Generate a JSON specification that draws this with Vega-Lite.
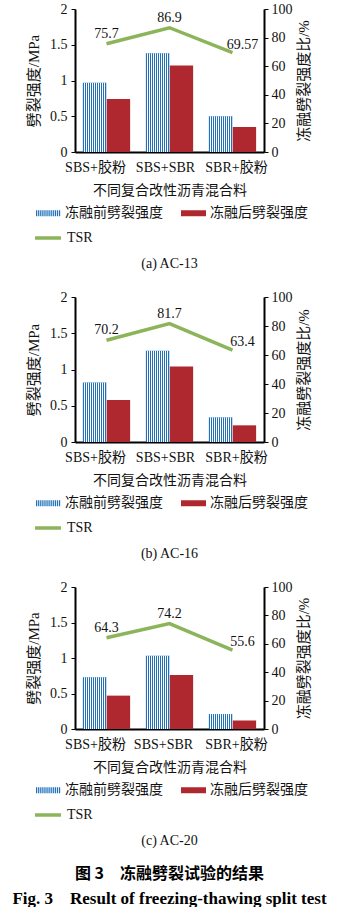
{
"$schema": "https://vega.github.io/schema/vega-lite/v6.json",
"padding": {"left": 12, "top": 2, "right": 0, "bottom": 0},
"config": {"view": {"stroke": null}, "font": "Liberation Serif, Noto Sans CJK SC", "axis": {"labelColor": "#111", "titleColor": "#111"}, "legend": {"labelColor": "#111", "padding": 0}},
"datasets": {
"bars": [
{"panel": "a", "cat": "SBS+胶粉", "series": "冻融前劈裂强度", "value": 0.97},
{"panel": "a", "cat": "SBS+胶粉", "series": "冻融后劈裂强度", "value": 0.74},
{"panel": "a", "cat": "SBS+SBR", "series": "冻融前劈裂强度", "value": 1.38},
{"panel": "a", "cat": "SBS+SBR", "series": "冻融后劈裂强度", "value": 1.21},
{"panel": "a", "cat": "SBR+胶粉", "series": "冻融前劈裂强度", "value": 0.5},
{"panel": "a", "cat": "SBR+胶粉", "series": "冻融后劈裂强度", "value": 0.35},
{"panel": "b", "cat": "SBS+胶粉", "series": "冻融前劈裂强度", "value": 0.82},
{"panel": "b", "cat": "SBS+胶粉", "series": "冻融后劈裂强度", "value": 0.58},
{"panel": "b", "cat": "SBS+SBR", "series": "冻融前劈裂强度", "value": 1.26},
{"panel": "b", "cat": "SBS+SBR", "series": "冻融后劈裂强度", "value": 1.04},
{"panel": "b", "cat": "SBR+胶粉", "series": "冻融前劈裂强度", "value": 0.34},
{"panel": "b", "cat": "SBR+胶粉", "series": "冻融后劈裂强度", "value": 0.23},
{"panel": "c", "cat": "SBS+胶粉", "series": "冻融前劈裂强度", "value": 0.73},
{"panel": "c", "cat": "SBS+胶粉", "series": "冻融后劈裂强度", "value": 0.47},
{"panel": "c", "cat": "SBS+SBR", "series": "冻融前劈裂强度", "value": 1.03},
{"panel": "c", "cat": "SBS+SBR", "series": "冻融后劈裂强度", "value": 0.76},
{"panel": "c", "cat": "SBR+胶粉", "series": "冻融前劈裂强度", "value": 0.21},
{"panel": "c", "cat": "SBR+胶粉", "series": "冻融后劈裂强度", "value": 0.12}
],
"tsr": [
{"panel": "a", "cat": "SBS+胶粉", "tsr": 75.7},
{"panel": "a", "cat": "SBS+SBR", "tsr": 86.9},
{"panel": "a", "cat": "SBR+胶粉", "tsr": 69.57},
{"panel": "b", "cat": "SBS+胶粉", "tsr": 70.2},
{"panel": "b", "cat": "SBS+SBR", "tsr": 81.7},
{"panel": "b", "cat": "SBR+胶粉", "tsr": 63.4},
{"panel": "c", "cat": "SBS+胶粉", "tsr": 64.3},
{"panel": "c", "cat": "SBS+SBR", "tsr": 74.2},
{"panel": "c", "cat": "SBR+胶粉", "tsr": 55.6}
]
},
"title": {"text": "图 3\u2003冻融劈裂试验的结果", "subtitle": "Fig. 3\u2003Result of freezing-thawing split test", "orient": "bottom", "anchor": "middle", "frame": "group", "font": "Noto Sans CJK SC", "fontSize": 16, "fontWeight": "bold", "color": "#000", "subtitleFont": "Liberation Serif", "subtitleFontSize": 17, "subtitleFontWeight": "bold", "subtitleColor": "#000", "subtitlePadding": 9, "offset": 18},
"vconcat": [
{
"width": 189, "height": 143,
"title": {"text": "(a) AC-13", "orient": "bottom", "offset": 12, "frame": "group", "anchor": "middle", "font": "Liberation Serif", "fontSize": 14, "fontWeight": "normal", "color": "#111"},
"layer": [
{"layer": [
{"data": {"name": "bars"}, "transform": [{"filter": "datum.panel == 'a'"}],
"mark": {"type": "bar"},
"encoding": {
"x": {"field": "cat", "type": "nominal", "scale": {"domain": ["SBS+胶粉", "SBS+SBR", "SBR+胶粉"], "paddingInner": 0.25, "paddingOuter": 0.125}, "axis": {"title": "不同复合改性沥青混合料", "labelAngle": 0, "labelFontSize": 14, "titleFontSize": 14, "titleFontWeight": "normal", "ticks": false, "domainColor": "#000", "domainWidth": 2, "labelPadding": 8, "titlePadding": 9, "labelOffset": {"condition": [{"test": "datum.value == 'SBS+胶粉'", "value": -11}, {"test": "datum.value == 'SBR+胶粉'", "value": 4}], "value": -4}}},
"xOffset": {"field": "series", "type": "nominal", "scale": {"domain": ["冻融前劈裂强度", "冻融后劈裂强度"], "paddingInner": 0, "paddingOuter": 0}},
"y": {"field": "value", "type": "quantitative", "scale": {"domain": [0, 2], "nice": false}, "axis": {"title": "劈裂强度/MPa", "values": [0, 0.5, 1, 1.5, 2], "format": "~g", "grid": false, "labelFontSize": 14, "titleFontSize": 15, "titleFontWeight": "normal", "tickSize": 4, "tickColor": "#000", "domainColor": "#000", "domainWidth": 2, "labelPadding": 4, "titlePadding": 8}},
"color": {"field": "series", "type": "nominal", "scale": {"domain": ["冻融前劈裂强度", "冻融后劈裂强度"], "range": ["#1F70B8", "#B0282F"]}, "legend": {"title": null, "orient": "none", "legendX": -39, "legendY": 191.5, "direction": "horizontal", "columns": 2, "columnPadding": 18, "symbolSize": 625, "symbolStrokeWidth": 0, "labelFontSize": 14, "labelOffset": 4, "encode": {"symbols": {"update": {"shape": {"signal": "datum.value === '冻融前劈裂强度' ? 'M-1,-0.24h0.1v0.48h-0.1ZM-0.8333,-0.24h0.1v0.48h-0.1ZM-0.6667,-0.24h0.1v0.48h-0.1ZM-0.5,-0.24h0.1v0.48h-0.1ZM-0.3333,-0.24h0.1v0.48h-0.1ZM-0.1667,-0.24h0.1v0.48h-0.1ZM0,-0.24h0.1v0.48h-0.1ZM0.1667,-0.24h0.1v0.48h-0.1ZM0.3333,-0.24h0.1v0.48h-0.1ZM0.5,-0.24h0.1v0.48h-0.1ZM0.6667,-0.24h0.1v0.48h-0.1ZM0.8333,-0.24h0.1v0.48h-0.1Z' : 'M-1,-0.24H1V0.24H-1Z'"}}}}}}
}},
{"data": {"name": "bars"}, "transform": [{"filter": "datum.panel == 'a' && datum.series == '冻融前劈裂强度'"}],
"mark": {"type": "bar", "fill": {"gradient": "linear", "x1": 0, "x2": 1, "y1": 0, "y2": 0, "stops": [
{"offset": 0, "color": "rgba(255,255,255,0)"}, {"offset": 0.0517, "color": "rgba(255,255,255,0)"}, {"offset": 0.0517, "color": "#ffffff"}, {"offset": 0.0833, "color": "#ffffff"},
{"offset": 0.0833, "color": "rgba(255,255,255,0)"}, {"offset": 0.135, "color": "rgba(255,255,255,0)"}, {"offset": 0.135, "color": "#ffffff"}, {"offset": 0.1667, "color": "#ffffff"},
{"offset": 0.1667, "color": "rgba(255,255,255,0)"}, {"offset": 0.2183, "color": "rgba(255,255,255,0)"}, {"offset": 0.2183, "color": "#ffffff"}, {"offset": 0.25, "color": "#ffffff"},
{"offset": 0.25, "color": "rgba(255,255,255,0)"}, {"offset": 0.3017, "color": "rgba(255,255,255,0)"}, {"offset": 0.3017, "color": "#ffffff"}, {"offset": 0.3333, "color": "#ffffff"},
{"offset": 0.3333, "color": "rgba(255,255,255,0)"}, {"offset": 0.385, "color": "rgba(255,255,255,0)"}, {"offset": 0.385, "color": "#ffffff"}, {"offset": 0.4167, "color": "#ffffff"},
{"offset": 0.4167, "color": "rgba(255,255,255,0)"}, {"offset": 0.4683, "color": "rgba(255,255,255,0)"}, {"offset": 0.4683, "color": "#ffffff"}, {"offset": 0.5, "color": "#ffffff"},
{"offset": 0.5, "color": "rgba(255,255,255,0)"}, {"offset": 0.5517, "color": "rgba(255,255,255,0)"}, {"offset": 0.5517, "color": "#ffffff"}, {"offset": 0.5833, "color": "#ffffff"},
{"offset": 0.5833, "color": "rgba(255,255,255,0)"}, {"offset": 0.635, "color": "rgba(255,255,255,0)"}, {"offset": 0.635, "color": "#ffffff"}, {"offset": 0.6667, "color": "#ffffff"},
{"offset": 0.6667, "color": "rgba(255,255,255,0)"}, {"offset": 0.7183, "color": "rgba(255,255,255,0)"}, {"offset": 0.7183, "color": "#ffffff"}, {"offset": 0.75, "color": "#ffffff"},
{"offset": 0.75, "color": "rgba(255,255,255,0)"}, {"offset": 0.8017, "color": "rgba(255,255,255,0)"}, {"offset": 0.8017, "color": "#ffffff"}, {"offset": 0.8333, "color": "#ffffff"},
{"offset": 0.8333, "color": "rgba(255,255,255,0)"}, {"offset": 0.885, "color": "rgba(255,255,255,0)"}, {"offset": 0.885, "color": "#ffffff"}, {"offset": 0.9167, "color": "#ffffff"},
{"offset": 0.9167, "color": "rgba(255,255,255,0)"}, {"offset": 0.9683, "color": "rgba(255,255,255,0)"}, {"offset": 0.9683, "color": "#ffffff"}, {"offset": 1, "color": "#ffffff"}
]}},
"encoding": {
"x": {"field": "cat", "type": "nominal", "scale": {"domain": ["SBS+胶粉", "SBS+SBR", "SBR+胶粉"], "paddingInner": 0.25, "paddingOuter": 0.125}, "axis": {"title": "不同复合改性沥青混合料", "labelAngle": 0, "labelFontSize": 14, "titleFontSize": 14, "titleFontWeight": "normal", "ticks": false, "domainColor": "#000", "domainWidth": 2, "labelPadding": 8, "titlePadding": 9, "labelOffset": {"condition": [{"test": "datum.value == 'SBS+胶粉'", "value": -11}, {"test": "datum.value == 'SBR+胶粉'", "value": 4}], "value": -4}}},
"xOffset": {"field": "series", "type": "nominal", "scale": {"domain": ["冻融前劈裂强度", "冻融后劈裂强度"], "paddingInner": 0, "paddingOuter": 0}},
"y": {"field": "value", "type": "quantitative", "scale": {"domain": [0, 2], "nice": false}, "axis": {"title": "劈裂强度/MPa", "values": [0, 0.5, 1, 1.5, 2], "format": "~g", "grid": false, "labelFontSize": 14, "titleFontSize": 15, "titleFontWeight": "normal", "tickSize": 4, "tickColor": "#000", "domainColor": "#000", "domainWidth": 2, "labelPadding": 4, "titlePadding": 8}}
}}
]},
{"layer": [
{"data": {"name": "tsr"}, "transform": [{"filter": "datum.panel == 'a'"}],
"mark": {"type": "line", "strokeWidth": 3.5},
"encoding": {
"x": {"field": "cat", "type": "nominal", "scale": {"domain": ["SBS+胶粉", "SBS+SBR", "SBR+胶粉"], "paddingInner": 0.25, "paddingOuter": 0.125}, "axis": {"title": "不同复合改性沥青混合料", "labelAngle": 0, "labelFontSize": 14, "titleFontSize": 14, "titleFontWeight": "normal", "ticks": false, "domainColor": "#000", "domainWidth": 2, "labelPadding": 8, "titlePadding": 9, "labelOffset": {"condition": [{"test": "datum.value == 'SBS+胶粉'", "value": -11}, {"test": "datum.value == 'SBR+胶粉'", "value": 4}], "value": -4}}},
"y": {"field": "tsr", "type": "quantitative", "scale": {"domain": [0, 100], "nice": false}, "axis": {"orient": "right", "title": "冻融劈裂强度比/%", "values": [0, 20, 40, 60, 80, 100], "grid": false, "labelFontSize": 14, "titleFontSize": 15, "titleFontWeight": "normal", "titleAngle": 270, "titleBaseline": "top", "tickSize": 4, "tickColor": "#000", "domainColor": "#000", "domainWidth": 2, "labelPadding": 3, "titlePadding": 4}},
"stroke": {"datum": "TSR", "type": "nominal", "scale": {"range": ["#8CB45A"]}, "legend": {"title": null, "orient": "none", "legendX": -42, "legendY": 214, "symbolType": "stroke", "symbolSize": 676, "symbolStrokeWidth": 3.5, "labelFontSize": 14, "labelOffset": 4}}
}},
{"data": {"name": "tsr"}, "transform": [{"filter": "datum.panel == 'a' && datum.cat != 'SBR+胶粉'"}],
"mark": {"type": "text", "fontSize": 14, "baseline": "middle", "dy": -10, "color": "#111"},
"encoding": {
"x": {"field": "cat", "type": "nominal", "scale": {"domain": ["SBS+胶粉", "SBS+SBR", "SBR+胶粉"], "paddingInner": 0.25, "paddingOuter": 0.125}, "axis": {"title": "不同复合改性沥青混合料", "labelAngle": 0, "labelFontSize": 14, "titleFontSize": 14, "titleFontWeight": "normal", "ticks": false, "domainColor": "#000", "domainWidth": 2, "labelPadding": 8, "titlePadding": 9, "labelOffset": {"condition": [{"test": "datum.value == 'SBS+胶粉'", "value": -11}, {"test": "datum.value == 'SBR+胶粉'", "value": 4}], "value": -4}}},
"y": {"field": "tsr", "type": "quantitative", "scale": {"domain": [0, 100], "nice": false}, "axis": {"orient": "right", "title": "冻融劈裂强度比/%", "values": [0, 20, 40, 60, 80, 100], "grid": false, "labelFontSize": 14, "titleFontSize": 15, "titleFontWeight": "normal", "titleAngle": 270, "titleBaseline": "top", "tickSize": 4, "tickColor": "#000", "domainColor": "#000", "domainWidth": 2, "labelPadding": 3, "titlePadding": 4}},
"text": {"field": "tsr", "type": "nominal"}
}},
{"data": {"name": "tsr"}, "transform": [{"filter": "datum.panel == 'a' && datum.cat == 'SBR+胶粉'"}],
"mark": {"type": "text", "fontSize": 14, "baseline": "middle", "dy": -8, "dx": 10, "color": "#111"},
"encoding": {
"x": {"field": "cat", "type": "nominal", "scale": {"domain": ["SBS+胶粉", "SBS+SBR", "SBR+胶粉"], "paddingInner": 0.25, "paddingOuter": 0.125}, "axis": {"title": "不同复合改性沥青混合料", "labelAngle": 0, "labelFontSize": 14, "titleFontSize": 14, "titleFontWeight": "normal", "ticks": false, "domainColor": "#000", "domainWidth": 2, "labelPadding": 8, "titlePadding": 9, "labelOffset": {"condition": [{"test": "datum.value == 'SBS+胶粉'", "value": -11}, {"test": "datum.value == 'SBR+胶粉'", "value": 4}], "value": -4}}},
"y": {"field": "tsr", "type": "quantitative", "scale": {"domain": [0, 100], "nice": false}, "axis": {"orient": "right", "title": "冻融劈裂强度比/%", "values": [0, 20, 40, 60, 80, 100], "grid": false, "labelFontSize": 14, "titleFontSize": 15, "titleFontWeight": "normal", "titleAngle": 270, "titleBaseline": "top", "tickSize": 4, "tickColor": "#000", "domainColor": "#000", "domainWidth": 2, "labelPadding": 3, "titlePadding": 4}},
"text": {"field": "tsr", "type": "nominal"}
}}
]}
],
"resolve": {"scale": {"y": "independent"}}
},
{
"width": 189, "height": 145,
"title": {"text": "(b) AC-16", "orient": "bottom", "offset": 12, "frame": "group", "anchor": "middle", "font": "Liberation Serif", "fontSize": 14, "fontWeight": "normal", "color": "#111"},
"layer": [
{"layer": [
{"data": {"name": "bars"}, "transform": [{"filter": "datum.panel == 'b'"}],
"mark": {"type": "bar"},
"encoding": {
"x": {"field": "cat", "type": "nominal", "scale": {"domain": ["SBS+胶粉", "SBS+SBR", "SBR+胶粉"], "paddingInner": 0.25, "paddingOuter": 0.125}, "axis": {"title": "不同复合改性沥青混合料", "labelAngle": 0, "labelFontSize": 14, "titleFontSize": 14, "titleFontWeight": "normal", "ticks": false, "domainColor": "#000", "domainWidth": 2, "labelPadding": 8, "titlePadding": 9, "labelOffset": {"condition": [{"test": "datum.value == 'SBS+胶粉'", "value": -11}, {"test": "datum.value == 'SBR+胶粉'", "value": 4}], "value": -4}}},
"xOffset": {"field": "series", "type": "nominal", "scale": {"domain": ["冻融前劈裂强度", "冻融后劈裂强度"], "paddingInner": 0, "paddingOuter": 0}},
"y": {"field": "value", "type": "quantitative", "scale": {"domain": [0, 2], "nice": false}, "axis": {"title": "劈裂强度/MPa", "values": [0, 0.5, 1, 1.5, 2], "format": "~g", "grid": false, "labelFontSize": 14, "titleFontSize": 15, "titleFontWeight": "normal", "tickSize": 4, "tickColor": "#000", "domainColor": "#000", "domainWidth": 2, "labelPadding": 4, "titlePadding": 8}},
"color": {"field": "series", "type": "nominal", "scale": {"domain": ["冻融前劈裂强度", "冻融后劈裂强度"], "range": ["#1F70B8", "#B0282F"]}, "legend": {"title": null, "orient": "none", "legendX": -39, "legendY": 193.5, "direction": "horizontal", "columns": 2, "columnPadding": 18, "symbolSize": 625, "symbolStrokeWidth": 0, "labelFontSize": 14, "labelOffset": 4, "encode": {"symbols": {"update": {"shape": {"signal": "datum.value === '冻融前劈裂强度' ? 'M-1,-0.24h0.1v0.48h-0.1ZM-0.8333,-0.24h0.1v0.48h-0.1ZM-0.6667,-0.24h0.1v0.48h-0.1ZM-0.5,-0.24h0.1v0.48h-0.1ZM-0.3333,-0.24h0.1v0.48h-0.1ZM-0.1667,-0.24h0.1v0.48h-0.1ZM0,-0.24h0.1v0.48h-0.1ZM0.1667,-0.24h0.1v0.48h-0.1ZM0.3333,-0.24h0.1v0.48h-0.1ZM0.5,-0.24h0.1v0.48h-0.1ZM0.6667,-0.24h0.1v0.48h-0.1ZM0.8333,-0.24h0.1v0.48h-0.1Z' : 'M-1,-0.24H1V0.24H-1Z'"}}}}}}
}},
{"data": {"name": "bars"}, "transform": [{"filter": "datum.panel == 'b' && datum.series == '冻融前劈裂强度'"}],
"mark": {"type": "bar", "fill": {"gradient": "linear", "x1": 0, "x2": 1, "y1": 0, "y2": 0, "stops": [
{"offset": 0, "color": "rgba(255,255,255,0)"}, {"offset": 0.0517, "color": "rgba(255,255,255,0)"}, {"offset": 0.0517, "color": "#ffffff"}, {"offset": 0.0833, "color": "#ffffff"},
{"offset": 0.0833, "color": "rgba(255,255,255,0)"}, {"offset": 0.135, "color": "rgba(255,255,255,0)"}, {"offset": 0.135, "color": "#ffffff"}, {"offset": 0.1667, "color": "#ffffff"},
{"offset": 0.1667, "color": "rgba(255,255,255,0)"}, {"offset": 0.2183, "color": "rgba(255,255,255,0)"}, {"offset": 0.2183, "color": "#ffffff"}, {"offset": 0.25, "color": "#ffffff"},
{"offset": 0.25, "color": "rgba(255,255,255,0)"}, {"offset": 0.3017, "color": "rgba(255,255,255,0)"}, {"offset": 0.3017, "color": "#ffffff"}, {"offset": 0.3333, "color": "#ffffff"},
{"offset": 0.3333, "color": "rgba(255,255,255,0)"}, {"offset": 0.385, "color": "rgba(255,255,255,0)"}, {"offset": 0.385, "color": "#ffffff"}, {"offset": 0.4167, "color": "#ffffff"},
{"offset": 0.4167, "color": "rgba(255,255,255,0)"}, {"offset": 0.4683, "color": "rgba(255,255,255,0)"}, {"offset": 0.4683, "color": "#ffffff"}, {"offset": 0.5, "color": "#ffffff"},
{"offset": 0.5, "color": "rgba(255,255,255,0)"}, {"offset": 0.5517, "color": "rgba(255,255,255,0)"}, {"offset": 0.5517, "color": "#ffffff"}, {"offset": 0.5833, "color": "#ffffff"},
{"offset": 0.5833, "color": "rgba(255,255,255,0)"}, {"offset": 0.635, "color": "rgba(255,255,255,0)"}, {"offset": 0.635, "color": "#ffffff"}, {"offset": 0.6667, "color": "#ffffff"},
{"offset": 0.6667, "color": "rgba(255,255,255,0)"}, {"offset": 0.7183, "color": "rgba(255,255,255,0)"}, {"offset": 0.7183, "color": "#ffffff"}, {"offset": 0.75, "color": "#ffffff"},
{"offset": 0.75, "color": "rgba(255,255,255,0)"}, {"offset": 0.8017, "color": "rgba(255,255,255,0)"}, {"offset": 0.8017, "color": "#ffffff"}, {"offset": 0.8333, "color": "#ffffff"},
{"offset": 0.8333, "color": "rgba(255,255,255,0)"}, {"offset": 0.885, "color": "rgba(255,255,255,0)"}, {"offset": 0.885, "color": "#ffffff"}, {"offset": 0.9167, "color": "#ffffff"},
{"offset": 0.9167, "color": "rgba(255,255,255,0)"}, {"offset": 0.9683, "color": "rgba(255,255,255,0)"}, {"offset": 0.9683, "color": "#ffffff"}, {"offset": 1, "color": "#ffffff"}
]}},
"encoding": {
"x": {"field": "cat", "type": "nominal", "scale": {"domain": ["SBS+胶粉", "SBS+SBR", "SBR+胶粉"], "paddingInner": 0.25, "paddingOuter": 0.125}, "axis": {"title": "不同复合改性沥青混合料", "labelAngle": 0, "labelFontSize": 14, "titleFontSize": 14, "titleFontWeight": "normal", "ticks": false, "domainColor": "#000", "domainWidth": 2, "labelPadding": 8, "titlePadding": 9, "labelOffset": {"condition": [{"test": "datum.value == 'SBS+胶粉'", "value": -11}, {"test": "datum.value == 'SBR+胶粉'", "value": 4}], "value": -4}}},
"xOffset": {"field": "series", "type": "nominal", "scale": {"domain": ["冻融前劈裂强度", "冻融后劈裂强度"], "paddingInner": 0, "paddingOuter": 0}},
"y": {"field": "value", "type": "quantitative", "scale": {"domain": [0, 2], "nice": false}, "axis": {"title": "劈裂强度/MPa", "values": [0, 0.5, 1, 1.5, 2], "format": "~g", "grid": false, "labelFontSize": 14, "titleFontSize": 15, "titleFontWeight": "normal", "tickSize": 4, "tickColor": "#000", "domainColor": "#000", "domainWidth": 2, "labelPadding": 4, "titlePadding": 8}}
}}
]},
{"layer": [
{"data": {"name": "tsr"}, "transform": [{"filter": "datum.panel == 'b'"}],
"mark": {"type": "line", "strokeWidth": 3.5},
"encoding": {
"x": {"field": "cat", "type": "nominal", "scale": {"domain": ["SBS+胶粉", "SBS+SBR", "SBR+胶粉"], "paddingInner": 0.25, "paddingOuter": 0.125}, "axis": {"title": "不同复合改性沥青混合料", "labelAngle": 0, "labelFontSize": 14, "titleFontSize": 14, "titleFontWeight": "normal", "ticks": false, "domainColor": "#000", "domainWidth": 2, "labelPadding": 8, "titlePadding": 9, "labelOffset": {"condition": [{"test": "datum.value == 'SBS+胶粉'", "value": -11}, {"test": "datum.value == 'SBR+胶粉'", "value": 4}], "value": -4}}},
"y": {"field": "tsr", "type": "quantitative", "scale": {"domain": [0, 100], "nice": false}, "axis": {"orient": "right", "title": "冻融劈裂强度比/%", "values": [0, 20, 40, 60, 80, 100], "grid": false, "labelFontSize": 14, "titleFontSize": 15, "titleFontWeight": "normal", "titleAngle": 270, "titleBaseline": "top", "tickSize": 4, "tickColor": "#000", "domainColor": "#000", "domainWidth": 2, "labelPadding": 3, "titlePadding": 4}},
"stroke": {"datum": "TSR", "type": "nominal", "scale": {"range": ["#8CB45A"]}, "legend": {"title": null, "orient": "none", "legendX": -42, "legendY": 216, "symbolType": "stroke", "symbolSize": 676, "symbolStrokeWidth": 3.5, "labelFontSize": 14, "labelOffset": 4}}
}},
{"data": {"name": "tsr"}, "transform": [{"filter": "datum.panel == 'b' && datum.cat != 'SBR+胶粉'"}],
"mark": {"type": "text", "fontSize": 14, "baseline": "middle", "dy": -10, "color": "#111"},
"encoding": {
"x": {"field": "cat", "type": "nominal", "scale": {"domain": ["SBS+胶粉", "SBS+SBR", "SBR+胶粉"], "paddingInner": 0.25, "paddingOuter": 0.125}, "axis": {"title": "不同复合改性沥青混合料", "labelAngle": 0, "labelFontSize": 14, "titleFontSize": 14, "titleFontWeight": "normal", "ticks": false, "domainColor": "#000", "domainWidth": 2, "labelPadding": 8, "titlePadding": 9, "labelOffset": {"condition": [{"test": "datum.value == 'SBS+胶粉'", "value": -11}, {"test": "datum.value == 'SBR+胶粉'", "value": 4}], "value": -4}}},
"y": {"field": "tsr", "type": "quantitative", "scale": {"domain": [0, 100], "nice": false}, "axis": {"orient": "right", "title": "冻融劈裂强度比/%", "values": [0, 20, 40, 60, 80, 100], "grid": false, "labelFontSize": 14, "titleFontSize": 15, "titleFontWeight": "normal", "titleAngle": 270, "titleBaseline": "top", "tickSize": 4, "tickColor": "#000", "domainColor": "#000", "domainWidth": 2, "labelPadding": 3, "titlePadding": 4}},
"text": {"field": "tsr", "type": "nominal"}
}},
{"data": {"name": "tsr"}, "transform": [{"filter": "datum.panel == 'b' && datum.cat == 'SBR+胶粉'"}],
"mark": {"type": "text", "fontSize": 14, "baseline": "middle", "dy": -8, "dx": 10, "color": "#111"},
"encoding": {
"x": {"field": "cat", "type": "nominal", "scale": {"domain": ["SBS+胶粉", "SBS+SBR", "SBR+胶粉"], "paddingInner": 0.25, "paddingOuter": 0.125}, "axis": {"title": "不同复合改性沥青混合料", "labelAngle": 0, "labelFontSize": 14, "titleFontSize": 14, "titleFontWeight": "normal", "ticks": false, "domainColor": "#000", "domainWidth": 2, "labelPadding": 8, "titlePadding": 9, "labelOffset": {"condition": [{"test": "datum.value == 'SBS+胶粉'", "value": -11}, {"test": "datum.value == 'SBR+胶粉'", "value": 4}], "value": -4}}},
"y": {"field": "tsr", "type": "quantitative", "scale": {"domain": [0, 100], "nice": false}, "axis": {"orient": "right", "title": "冻融劈裂强度比/%", "values": [0, 20, 40, 60, 80, 100], "grid": false, "labelFontSize": 14, "titleFontSize": 15, "titleFontWeight": "normal", "titleAngle": 270, "titleBaseline": "top", "tickSize": 4, "tickColor": "#000", "domainColor": "#000", "domainWidth": 2, "labelPadding": 3, "titlePadding": 4}},
"text": {"field": "tsr", "type": "nominal"}
}}
]}
],
"resolve": {"scale": {"y": "independent"}}
},
{
"width": 189, "height": 142,
"title": {"text": "(c) AC-20", "orient": "bottom", "offset": 12, "frame": "group", "anchor": "middle", "font": "Liberation Serif", "fontSize": 14, "fontWeight": "normal", "color": "#111"},
"layer": [
{"layer": [
{"data": {"name": "bars"}, "transform": [{"filter": "datum.panel == 'c'"}],
"mark": {"type": "bar"},
"encoding": {
"x": {"field": "cat", "type": "nominal", "scale": {"domain": ["SBS+胶粉", "SBS+SBR", "SBR+胶粉"], "paddingInner": 0.25, "paddingOuter": 0.125}, "axis": {"title": "不同复合改性沥青混合料", "labelAngle": 0, "labelFontSize": 14, "titleFontSize": 14, "titleFontWeight": "normal", "ticks": false, "domainColor": "#000", "domainWidth": 2, "labelPadding": 8, "titlePadding": 9, "labelOffset": {"condition": [{"test": "datum.value == 'SBS+胶粉'", "value": -11}, {"test": "datum.value == 'SBR+胶粉'", "value": 4}], "value": -6}}},
"xOffset": {"field": "series", "type": "nominal", "scale": {"domain": ["冻融前劈裂强度", "冻融后劈裂强度"], "paddingInner": 0, "paddingOuter": 0}},
"y": {"field": "value", "type": "quantitative", "scale": {"domain": [0, 2], "nice": false}, "axis": {"title": "劈裂强度/MPa", "values": [0, 0.5, 1, 1.5, 2], "format": "~g", "grid": false, "labelFontSize": 14, "titleFontSize": 15, "titleFontWeight": "normal", "tickSize": 4, "tickColor": "#000", "domainColor": "#000", "domainWidth": 2, "labelPadding": 4, "titlePadding": 8}},
"color": {"field": "series", "type": "nominal", "scale": {"domain": ["冻融前劈裂强度", "冻融后劈裂强度"], "range": ["#1F70B8", "#B0282F"]}, "legend": {"title": null, "orient": "none", "legendX": -39, "legendY": 190.5, "direction": "horizontal", "columns": 2, "columnPadding": 18, "symbolSize": 625, "symbolStrokeWidth": 0, "labelFontSize": 14, "labelOffset": 4, "encode": {"symbols": {"update": {"shape": {"signal": "datum.value === '冻融前劈裂强度' ? 'M-1,-0.24h0.1v0.48h-0.1ZM-0.8333,-0.24h0.1v0.48h-0.1ZM-0.6667,-0.24h0.1v0.48h-0.1ZM-0.5,-0.24h0.1v0.48h-0.1ZM-0.3333,-0.24h0.1v0.48h-0.1ZM-0.1667,-0.24h0.1v0.48h-0.1ZM0,-0.24h0.1v0.48h-0.1ZM0.1667,-0.24h0.1v0.48h-0.1ZM0.3333,-0.24h0.1v0.48h-0.1ZM0.5,-0.24h0.1v0.48h-0.1ZM0.6667,-0.24h0.1v0.48h-0.1ZM0.8333,-0.24h0.1v0.48h-0.1Z' : 'M-1,-0.24H1V0.24H-1Z'"}}}}}}
}},
{"data": {"name": "bars"}, "transform": [{"filter": "datum.panel == 'c' && datum.series == '冻融前劈裂强度'"}],
"mark": {"type": "bar", "fill": {"gradient": "linear", "x1": 0, "x2": 1, "y1": 0, "y2": 0, "stops": [
{"offset": 0, "color": "rgba(255,255,255,0)"}, {"offset": 0.0517, "color": "rgba(255,255,255,0)"}, {"offset": 0.0517, "color": "#ffffff"}, {"offset": 0.0833, "color": "#ffffff"},
{"offset": 0.0833, "color": "rgba(255,255,255,0)"}, {"offset": 0.135, "color": "rgba(255,255,255,0)"}, {"offset": 0.135, "color": "#ffffff"}, {"offset": 0.1667, "color": "#ffffff"},
{"offset": 0.1667, "color": "rgba(255,255,255,0)"}, {"offset": 0.2183, "color": "rgba(255,255,255,0)"}, {"offset": 0.2183, "color": "#ffffff"}, {"offset": 0.25, "color": "#ffffff"},
{"offset": 0.25, "color": "rgba(255,255,255,0)"}, {"offset": 0.3017, "color": "rgba(255,255,255,0)"}, {"offset": 0.3017, "color": "#ffffff"}, {"offset": 0.3333, "color": "#ffffff"},
{"offset": 0.3333, "color": "rgba(255,255,255,0)"}, {"offset": 0.385, "color": "rgba(255,255,255,0)"}, {"offset": 0.385, "color": "#ffffff"}, {"offset": 0.4167, "color": "#ffffff"},
{"offset": 0.4167, "color": "rgba(255,255,255,0)"}, {"offset": 0.4683, "color": "rgba(255,255,255,0)"}, {"offset": 0.4683, "color": "#ffffff"}, {"offset": 0.5, "color": "#ffffff"},
{"offset": 0.5, "color": "rgba(255,255,255,0)"}, {"offset": 0.5517, "color": "rgba(255,255,255,0)"}, {"offset": 0.5517, "color": "#ffffff"}, {"offset": 0.5833, "color": "#ffffff"},
{"offset": 0.5833, "color": "rgba(255,255,255,0)"}, {"offset": 0.635, "color": "rgba(255,255,255,0)"}, {"offset": 0.635, "color": "#ffffff"}, {"offset": 0.6667, "color": "#ffffff"},
{"offset": 0.6667, "color": "rgba(255,255,255,0)"}, {"offset": 0.7183, "color": "rgba(255,255,255,0)"}, {"offset": 0.7183, "color": "#ffffff"}, {"offset": 0.75, "color": "#ffffff"},
{"offset": 0.75, "color": "rgba(255,255,255,0)"}, {"offset": 0.8017, "color": "rgba(255,255,255,0)"}, {"offset": 0.8017, "color": "#ffffff"}, {"offset": 0.8333, "color": "#ffffff"},
{"offset": 0.8333, "color": "rgba(255,255,255,0)"}, {"offset": 0.885, "color": "rgba(255,255,255,0)"}, {"offset": 0.885, "color": "#ffffff"}, {"offset": 0.9167, "color": "#ffffff"},
{"offset": 0.9167, "color": "rgba(255,255,255,0)"}, {"offset": 0.9683, "color": "rgba(255,255,255,0)"}, {"offset": 0.9683, "color": "#ffffff"}, {"offset": 1, "color": "#ffffff"}
]}},
"encoding": {
"x": {"field": "cat", "type": "nominal", "scale": {"domain": ["SBS+胶粉", "SBS+SBR", "SBR+胶粉"], "paddingInner": 0.25, "paddingOuter": 0.125}, "axis": {"title": "不同复合改性沥青混合料", "labelAngle": 0, "labelFontSize": 14, "titleFontSize": 14, "titleFontWeight": "normal", "ticks": false, "domainColor": "#000", "domainWidth": 2, "labelPadding": 8, "titlePadding": 9, "labelOffset": {"condition": [{"test": "datum.value == 'SBS+胶粉'", "value": -11}, {"test": "datum.value == 'SBR+胶粉'", "value": 4}], "value": -6}}},
"xOffset": {"field": "series", "type": "nominal", "scale": {"domain": ["冻融前劈裂强度", "冻融后劈裂强度"], "paddingInner": 0, "paddingOuter": 0}},
"y": {"field": "value", "type": "quantitative", "scale": {"domain": [0, 2], "nice": false}, "axis": {"title": "劈裂强度/MPa", "values": [0, 0.5, 1, 1.5, 2], "format": "~g", "grid": false, "labelFontSize": 14, "titleFontSize": 15, "titleFontWeight": "normal", "tickSize": 4, "tickColor": "#000", "domainColor": "#000", "domainWidth": 2, "labelPadding": 4, "titlePadding": 8}}
}}
]},
{"layer": [
{"data": {"name": "tsr"}, "transform": [{"filter": "datum.panel == 'c'"}],
"mark": {"type": "line", "strokeWidth": 3.5},
"encoding": {
"x": {"field": "cat", "type": "nominal", "scale": {"domain": ["SBS+胶粉", "SBS+SBR", "SBR+胶粉"], "paddingInner": 0.25, "paddingOuter": 0.125}, "axis": {"title": "不同复合改性沥青混合料", "labelAngle": 0, "labelFontSize": 14, "titleFontSize": 14, "titleFontWeight": "normal", "ticks": false, "domainColor": "#000", "domainWidth": 2, "labelPadding": 8, "titlePadding": 9, "labelOffset": {"condition": [{"test": "datum.value == 'SBS+胶粉'", "value": -11}, {"test": "datum.value == 'SBR+胶粉'", "value": 4}], "value": -6}}},
"y": {"field": "tsr", "type": "quantitative", "scale": {"domain": [0, 100], "nice": false}, "axis": {"orient": "right", "title": "冻融劈裂强度比/%", "values": [0, 20, 40, 60, 80, 100], "grid": false, "labelFontSize": 14, "titleFontSize": 15, "titleFontWeight": "normal", "titleAngle": 270, "titleBaseline": "top", "tickSize": 4, "tickColor": "#000", "domainColor": "#000", "domainWidth": 2, "labelPadding": 3, "titlePadding": 4}},
"stroke": {"datum": "TSR", "type": "nominal", "scale": {"range": ["#8CB45A"]}, "legend": {"title": null, "orient": "none", "legendX": -42, "legendY": 213, "symbolType": "stroke", "symbolSize": 676, "symbolStrokeWidth": 3.5, "labelFontSize": 14, "labelOffset": 4}}
}},
{"data": {"name": "tsr"}, "transform": [{"filter": "datum.panel == 'c' && datum.cat != 'SBR+胶粉'"}],
"mark": {"type": "text", "fontSize": 14, "baseline": "middle", "dy": -10, "color": "#111"},
"encoding": {
"x": {"field": "cat", "type": "nominal", "scale": {"domain": ["SBS+胶粉", "SBS+SBR", "SBR+胶粉"], "paddingInner": 0.25, "paddingOuter": 0.125}, "axis": {"title": "不同复合改性沥青混合料", "labelAngle": 0, "labelFontSize": 14, "titleFontSize": 14, "titleFontWeight": "normal", "ticks": false, "domainColor": "#000", "domainWidth": 2, "labelPadding": 8, "titlePadding": 9, "labelOffset": {"condition": [{"test": "datum.value == 'SBS+胶粉'", "value": -11}, {"test": "datum.value == 'SBR+胶粉'", "value": 4}], "value": -6}}},
"y": {"field": "tsr", "type": "quantitative", "scale": {"domain": [0, 100], "nice": false}, "axis": {"orient": "right", "title": "冻融劈裂强度比/%", "values": [0, 20, 40, 60, 80, 100], "grid": false, "labelFontSize": 14, "titleFontSize": 15, "titleFontWeight": "normal", "titleAngle": 270, "titleBaseline": "top", "tickSize": 4, "tickColor": "#000", "domainColor": "#000", "domainWidth": 2, "labelPadding": 3, "titlePadding": 4}},
"text": {"field": "tsr", "type": "nominal"}
}},
{"data": {"name": "tsr"}, "transform": [{"filter": "datum.panel == 'c' && datum.cat == 'SBR+胶粉'"}],
"mark": {"type": "text", "fontSize": 14, "baseline": "middle", "dy": -8, "dx": 10, "color": "#111"},
"encoding": {
"x": {"field": "cat", "type": "nominal", "scale": {"domain": ["SBS+胶粉", "SBS+SBR", "SBR+胶粉"], "paddingInner": 0.25, "paddingOuter": 0.125}, "axis": {"title": "不同复合改性沥青混合料", "labelAngle": 0, "labelFontSize": 14, "titleFontSize": 14, "titleFontWeight": "normal", "ticks": false, "domainColor": "#000", "domainWidth": 2, "labelPadding": 8, "titlePadding": 9, "labelOffset": {"condition": [{"test": "datum.value == 'SBS+胶粉'", "value": -11}, {"test": "datum.value == 'SBR+胶粉'", "value": 4}], "value": -6}}},
"y": {"field": "tsr", "type": "quantitative", "scale": {"domain": [0, 100], "nice": false}, "axis": {"orient": "right", "title": "冻融劈裂强度比/%", "values": [0, 20, 40, 60, 80, 100], "grid": false, "labelFontSize": 14, "titleFontSize": 15, "titleFontWeight": "normal", "titleAngle": 270, "titleBaseline": "top", "tickSize": 4, "tickColor": "#000", "domainColor": "#000", "domainWidth": 2, "labelPadding": 3, "titlePadding": 4}},
"text": {"field": "tsr", "type": "nominal"}
}}
]}
],
"resolve": {"scale": {"y": "independent"}}
}
],
"spacing": 145,
"bounds": "flush",
"resolve": {"scale": {"color": "independent", "stroke": "independent", "x": "independent", "xOffset": "independent"}, "legend": {"color": "independent", "stroke": "independent"}}
}
